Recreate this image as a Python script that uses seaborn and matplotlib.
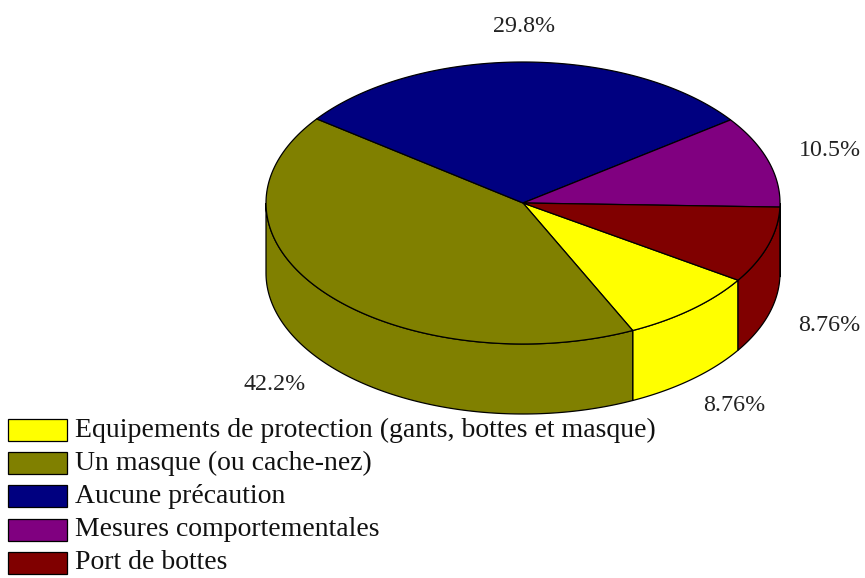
import numpy as np
import matplotlib
matplotlib.use("Agg")
import matplotlib.pyplot as plt
from matplotlib.patches import Polygon, Rectangle
import seaborn as sns

# data, in the order the slices are drawn (clockwise) and listed
labels = [
    "Equipements de protection (gants, bottes et masque)",
    "Un masque (ou cache-nez)",
    "Aucune précaution",
    "Mesures comportementales",
    "Port de bottes",
]
values = [8.76, 42.2, 29.8, 10.5, 8.76]
pct_labels = ["8.76%", "42.2%", "29.8%", "10.5%", "8.76%"]
colors = ["#ffff00", "#808000", "#000080", "#800080", "#800000"]

sns.set_theme(style="white")
plt.rcParams["font.family"] = ["Liberation Serif", "DejaVu Serif"]

# pie geometry (pixel space)
cx, cy = 523, 203
rx, ry = 257, 141
depth = 70
start_angle = -33.2
label_size = 17.3
legend_size = 20


def top_pt(t):
    r = np.radians(t)
    return cx + rx * np.cos(r), cy - ry * np.sin(r)


def arc(a, b, n=120):
    ts = np.linspace(a, b, n)
    return np.array([top_pt(t) for t in ts])


fig = plt.figure(figsize=(8.65, 5.78), dpi=100)
ax = fig.add_axes([0, 0, 1, 1])
ax.set_xlim(0, 865)
ax.set_ylim(578, 0)
ax.axis("off")

total = sum(values)
edges = start_angle - 360 * np.concatenate([[0], np.cumsum(values)]) / total

# side walls (front half only)
for i, col in enumerate(colors):
    hi, lo = edges[i], edges[i + 1]
    for f_lo, f_hi in [(-180, 0), (-540, -360)]:
        a, b = max(lo, f_lo), min(hi, f_hi)
        if b - a <= 0.05:
            continue
        top = arc(a, b)
        bot = top[::-1] + np.array([0, depth])
        ax.add_patch(Polygon(np.vstack([top, bot]), closed=True, facecolor=col,
                             edgecolor="black", linewidth=0.9))

# top face
for i, col in enumerate(colors):
    hi, lo = edges[i], edges[i + 1]
    pts = np.vstack([[cx, cy], arc(hi, lo)])
    ax.add_patch(Polygon(pts, closed=True, facecolor=col, edgecolor="black",
                         linewidth=0.9))

# percentage labels
for i, txt in enumerate(pct_labels):
    m = np.radians((edges[i] + edges[i + 1]) / 2)
    x = cx + 1.25 * rx * np.cos(m)
    y = cy - 1.25 * ry * np.sin(m) + (depth if np.sin(m) < 0 else 0)
    ax.text(x, y, txt, ha="center", va="center", fontsize=label_size, color="#222222")

# legend
for i, (lab, col) in enumerate(zip(labels, colors)):
    yc = 430 + 33.2 * i
    ax.add_patch(Rectangle((8, yc - 11), 59, 22, facecolor=col, edgecolor="black",
                           linewidth=0.9))
    ax.text(75, yc, lab, ha="left", va="center", fontsize=legend_size, color="#111111")

fig.savefig("out.png", dpi=100)
